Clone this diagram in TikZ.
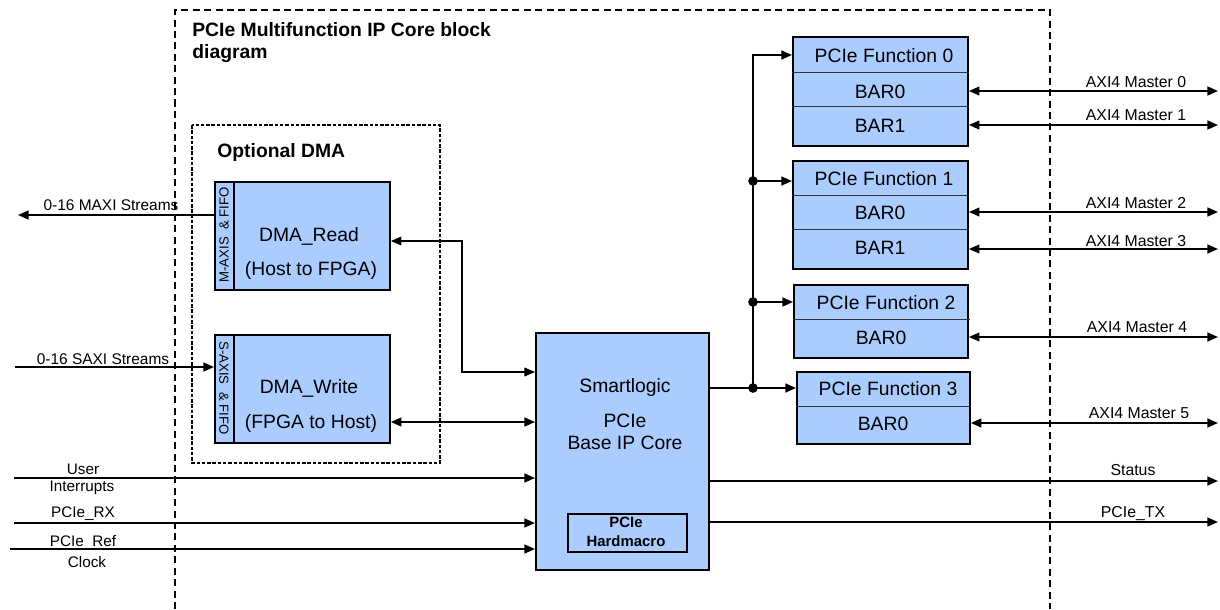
\documentclass[tikz,border=0pt]{standalone}
\usepackage{fontspec}
\setmainfont{Liberation Sans}
\usetikzlibrary{arrows.meta}
\definecolor{boxblue}{RGB}{170,204,255}
\begin{document}
\begin{tikzpicture}[x=0.02cm,y=-0.02cm,
 box/.style={draw=black, fill=boxblue, line width=1.1pt, inner sep=0pt, anchor=north west},
 hbox/.style={draw=black, line width=1.1pt, inner sep=0pt, anchor=north west},
 txt/.style={inner sep=0pt, font=\fontsize{11}{13}\selectfont},
 btxt/.style={inner sep=0pt, font=\bfseries\fontsize{11}{12.5}\selectfont, align=left},
 hmtxt/.style={inner sep=0pt, font=\bfseries\fontsize{8.5}{10.5}\selectfont, align=center},
 lab/.style={inner sep=0pt, font=\fontsize{9}{10}\selectfont},
 llab/.style={inner sep=0pt, font=\fontsize{8.7}{10}\selectfont},
 slab/.style={inner sep=0pt, font=\fontsize{8.8}{10}\selectfont},
 striptxt/.style={inner sep=0pt, font=\fontsize{7.5}{8}\selectfont},
 conn/.style={line width=1.1pt},
 arr/.style={conn, -{Triangle[length=6pt,width=5pt]}},
 darr/.style={conn, {Triangle[length=6pt,width=5pt]}-{Triangle[length=6pt,width=5pt]}},
 tarr/.style={line width=0.6pt, {Triangle[length=6pt,width=5pt]}-{Triangle[length=6pt,width=5pt]}},
 divline/.style={line width=0.5pt, draw=black!80},
 dot/.style={circle, fill=black, inner sep=0pt, minimum size=5.5pt},
 outerframe/.style={line width=1pt, dash pattern=on 4pt off 2.5pt},
 innerframe/.style={line width=0.8pt, dash pattern=on 2pt off 1pt},
]
\useasboundingbox (0,0) rectangle (1220,609);

% frames
\draw[outerframe] (175,609) -- (175,10) -- (1050,10) -- (1050,609);
\draw[innerframe] (192,125) rectangle (440,463);
\node[btxt, anchor=north west] (title) at (192,22) {PCIe Multifunction IP Core block\\diagram};
\node[btxt, anchor=base west] (optdma) at (217,157) {Optional DMA};

% DMA blocks
\node[box, minimum width=3.5cm, minimum height=2.16cm] (dr) at (214,181) {};
\draw[line width=1.1pt] (234,181) -- (234,289);
\node[striptxt, rotate=90] (drs) at (224,235) {M-AXIS \ \& FIFO};
\node[txt] (drt1) at (309,236) {DMA\_Read};
\node[txt] (drt2) at (311,270) {(Host to FPGA)};

\node[box, minimum width=3.5cm, minimum height=2.16cm] (dw) at (214,334) {};
\draw[line width=1.1pt] (234,334) -- (234,442);
\node[striptxt, rotate=-90] (dws) at (224,388) {S-AXIS \ \& FIFO};
\node[txt] (dwt1) at (309,388) {DMA\_Write};
\node[txt] (dwt2) at (311,423) {(FPGA to Host)};

% Smartlogic core
\node[box, minimum width=3.46cm, minimum height=4.74cm] (smart) at (535,332) {};
\node[txt] (sm1) at (625,387) {Smartlogic};
\node[txt] (sm2) at (625,421) {PCIe};
\node[txt] (sm3) at (625,443) {Base IP Core};
\node[hbox, minimum width=2.38cm, minimum height=0.76cm] (hard) at (567,513) {};
\node[hmtxt] (hardt) at (626,532) {PCIe\\Hardmacro};

% Function blocks
\node[box, minimum width=3.5cm, minimum height=2.18cm] (f0) at (792,36) {};
\draw[divline] (792,72) -- (969,72);
\draw[divline] (792,106) -- (969,106);
\node[txt] (f0h) at (884,56) {PCIe Function 0};
\node[txt] (f0b0) at (880,92) {BAR0};
\node[txt] (f0b1) at (880,126) {BAR1};

\node[box, minimum width=3.5cm, minimum height=2.16cm] (f1) at (792,160) {};
\draw[divline] (792,195) -- (969,195);
\draw[divline] (792,229) -- (969,229);
\node[txt] (f1h) at (884,179) {PCIe Function 1};
\node[txt] (f1b0) at (880,213) {BAR0};
\node[txt] (f1b1) at (880,248) {BAR1};

\node[box, minimum width=3.48cm, minimum height=1.46cm] (f2) at (793,284) {};
\draw[divline] (793,319) -- (970,319);
\node[txt] (f2h) at (886,303) {PCIe Function 2};
\node[txt] (f2b0) at (881,338) {BAR0};

\node[box, minimum width=3.46cm, minimum height=1.44cm] (f3) at (796,371) {};
\draw[divline] (796,406) -- (971,406);
\node[txt] (f3h) at (888,389) {PCIe Function 3};
\node[txt] (f3b0) at (883,424) {BAR0};

% left side connectors
\coordinate (maxi) at (18,215);
\draw[arr] (maxi -| dr.west) -- (maxi);
\node[slab] (maxil) at (111,205) {0-16 MAXI Streams};

\coordinate (saxi) at (15,367);
\draw[arr] (saxi) -- (saxi -| dw.west);
\node[slab] (saxil) at (103,359) {0-16 SAXI Streams};

\coordinate (ui) at (14,478);
\draw[arr] (ui) -- (ui -| smart.west);
\node[llab] (uil1) at (83,469) {User};
\node[llab] (uil2) at (82,488) {Interrupts};

\coordinate (rx) at (14,523);
\draw[arr] (rx) -- (rx -| smart.west);
\node[llab] (rxl) at (83,514) {PCIe\_RX};

\coordinate (rc) at (10,549);
\draw[arr] (rc) -- (rc -| smart.west);
\node[llab] (rcl1) at (83,542) {PCIe\_Ref};
\node[llab] (rcl2) at (87,562) {Clock};

% DMA to core
\coordinate (k1) at (462,241);
\coordinate (k2) at (462,372);
\draw[tarr] (k1 -| dr.east) -- (k1) -- (k2) -- (k2 -| smart.west);
\coordinate (k3) at (462,422);
\draw[darr] (k3 -| dw.east) -- (k3 -| smart.west);

% bus to functions
\node[dot] (j1) at (753,181) {};
\node[dot] (j2) at (753,302) {};
\node[dot] (j3) at (753,388) {};
\coordinate (b0) at (753,55);
\draw[arr] (j3 -| smart.east) -- (j3 -| f3.west);
\draw[arr] (j3.center) -- (b0) -- (b0 -| f0.west);
\draw[arr] (j1.center) -- (j1 -| f1.west);
\draw[arr] (j2.center) -- (j2 -| f2.west);

% AXI masters
\coordinate (m0) at (1218,91);
\coordinate (m1) at (1218,125);
\coordinate (m2) at (1218,212);
\coordinate (m3) at (1218,249);
\coordinate (m4) at (1218,337);
\coordinate (m5) at (1218,423);
\draw[darr] (m0 -| f0.east) -- (m0);
\draw[darr] (m1 -| f0.east) -- (m1);
\draw[darr] (m2 -| f1.east) -- (m2);
\draw[darr] (m3 -| f1.east) -- (m3);
\draw[darr] (m4 -| f2.east) -- (m4);
\draw[darr] (m5 -| f3.east) -- (m5);
\node[lab] (m0l) at (1136,82) {AXI4 Master 0};
\node[lab] (m1l) at (1136,115) {AXI4 Master 1};
\node[lab] (m2l) at (1136,203) {AXI4 Master 2};
\node[lab] (m3l) at (1136,241) {AXI4 Master 3};
\node[lab] (m4l) at (1137,327) {AXI4 Master 4};
\node[lab] (m5l) at (1139,413) {AXI4 Master 5};

% outputs
\coordinate (st) at (1218,481);
\draw[arr] (st -| smart.east) -- (st);
\node[lab] (stl) at (1133,470) {Status};
\coordinate (tx) at (1218,522);
\draw[arr] (tx -| smart.east) -- (tx);
\node[lab] (txl) at (1133,514) {PCIe\_TX};
\end{tikzpicture}
\end{document}
